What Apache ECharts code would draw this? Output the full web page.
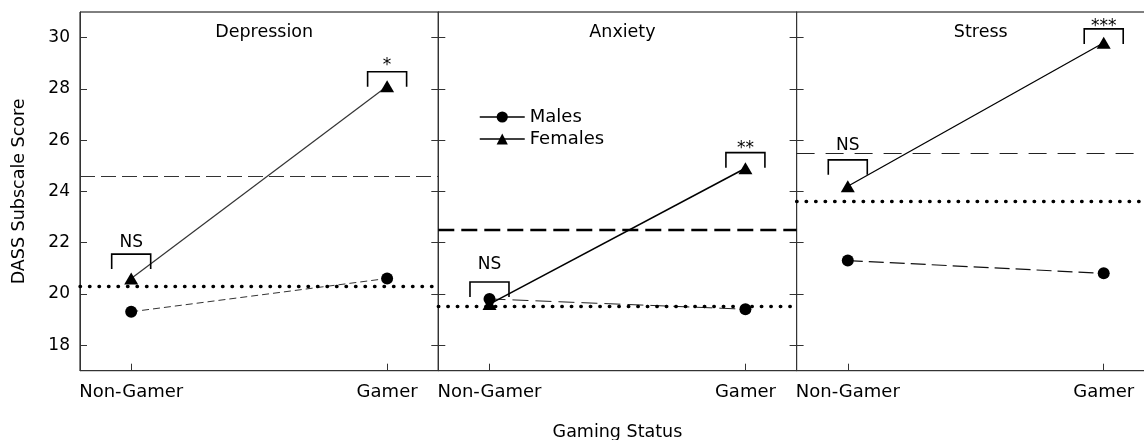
<!DOCTYPE html>
<html>
<head>
<meta charset="utf-8">
<script src="https://cdn.jsdelivr.net/npm/echarts@6/dist/echarts.min.js"></script>
<style>
html, body { margin: 0; padding: 0; background: #fff; }
#main { width: 1144px; height: 440px; }
</style>
</head>
<body>
<div id="main"></div>
<script>
// values
var panels = ['Depression', 'Anxiety', 'Stress'];
var groups = ['Non-Gamer', 'Gamer'];
var yTicks = [18, 20, 22, 24, 26, 28, 30];
var males = [[19.3, 20.6], [19.8, 19.4], [21.3, 20.8]];
var females = [[20.6, 28.1], [19.6, 24.9], [24.2, 29.8]];
var dashedRef = [24.6, 22.5, 25.5];
var dottedRef = [20.3, 19.5, 23.6];
// significance brackets (level of bracket top, level of label)
var sigLabels = [['NS', '*'], ['NS', '**'], ['NS', '***']];
var sigBracket = [[21.55, 28.67], [20.46, 25.51], [25.23, 30.34]];
var sigText = [[22.0, 28.9], [21.15, 25.65], [25.8, 30.45]];

var maleLine = [
    { type: [7, 4], width: 1, color: '#333' },
    { type: [16, 7], width: 1, color: '#222' },
    { type: [15, 6], width: 1.2, color: '#111' }
];
var femaleLine = [
    { type: 'solid', width: 1.2, color: '#333' },
    { type: 'solid', width: 1.6, color: '#000' },
    { type: 'solid', width: 1.3, color: '#000' }
];
var refDash = [
    { type: [15, 6], width: 1, color: '#333' },
    { type: [16, 7], width: 2.4, color: '#000' },
    { type: [18, 11], width: 1.2, color: '#222' }
];

var FONT = 'DejaVu Sans';
var panelLeft = 80, panelW = 358.3;

var grids = [], xAxes = [], yAxes = [], series = [], titles = [];

panels.forEach(function (name, p) {
    grids.push({
        left: panelLeft + p * panelW, top: 12, width: panelW, height: 358.7,
        outerBoundsMode: 'none', containLabel: false,
        show: true, borderColor: '#000', borderWidth: 1
    });
    titles.push({
        text: name, left: panelLeft + p * panelW + panelW / 2, top: 18, textAlign: 'center',
        textStyle: { fontSize: 17.5, fontWeight: 'normal', color: '#000', fontFamily: FONT }
    });
    xAxes.push({
        type: 'value', gridIndex: p, min: -0.2, max: 1.2,
        axisLine: { show: true, onZero: false, lineStyle: { color: '#333' } },
        axisTick: { show: true, inside: true, length: 7, customValues: [0, 1], lineStyle: { color: '#333' } },
        axisLabel: {
            customValues: [0, 1], margin: 13, fontSize: 18, color: '#000', fontFamily: FONT,
            formatter: function (v) { return groups[v]; }
        },
        splitLine: { show: false },
        name: p === 1 ? 'Gaming Status' : '',
        nameLocation: 'middle', nameGap: 53,
        nameTextStyle: { fontSize: 17.5, color: '#000', fontFamily: FONT }
    });
    yAxes.push({
        type: 'value', gridIndex: p, min: 17, max: 31, position: 'left',
        axisLine: { show: true, onZero: false, lineStyle: { color: '#333' } },
        axisTick: { show: true, inside: true, length: 7, customValues: yTicks, lineStyle: { color: '#333' } },
        axisLabel: { show: p === 0, customValues: yTicks, margin: 10, fontSize: 17, color: '#000', fontFamily: FONT },
        splitLine: { show: false },
        name: p === 0 ? 'DASS Subscale Score' : '',
        nameLocation: 'middle', nameGap: 52,
        nameTextStyle: { fontSize: 17.5, color: '#000', fontFamily: FONT }
    });
    yAxes.push({
        type: 'value', gridIndex: p, min: 17, max: 31, position: 'right',
        axisLine: { show: true, onZero: false, lineStyle: { color: '#333' } },
        axisTick: { show: true, inside: true, length: 7, customValues: yTicks, lineStyle: { color: '#333' } },
        axisLabel: { show: false },
        splitLine: { show: false }
    });

    series.push({
        name: 'Males', type: 'line', xAxisIndex: p, yAxisIndex: p * 2,
        data: males[p].map(function (v, i) { return [i, v]; }),
        symbol: 'circle', symbolSize: 12,
        itemStyle: { color: '#000' },
        lineStyle: maleLine[p],
        z: 3,
        markLine: {
            silent: true, symbol: 'none', label: { show: false },
            data: [
                { yAxis: dashedRef[p], lineStyle: refDash[p] },
                { yAxis: dottedRef[p], lineStyle: { type: [0.5, 9], width: 3.4, cap: 'round', color: '#000' } }
            ]
        }
    });
    series.push({
        name: 'Females', type: 'line', xAxisIndex: p, yAxisIndex: p * 2,
        data: females[p].map(function (v, i) { return [i, v]; }),
        symbol: 'triangle', symbolSize: [14, 12],
        itemStyle: { color: '#000' },
        lineStyle: femaleLine[p],
        z: 4
    });
    series.push({
        type: 'custom', xAxisIndex: p, yAxisIndex: p * 2, silent: true, z: 5,
        data: [0, 1].map(function (g) { return [g, sigBracket[p][g], sigText[p][g]]; }),
        renderItem: function (params, api) {
            var top = api.coord([api.value(0), api.value(1)]);
            var txt = api.coord([api.value(0), api.value(2)]);
            var half = 19.5, leg = 15;
            return {
                type: 'group',
                children: [
                    {
                        type: 'polyline',
                        shape: { points: [[top[0] - half, top[1] + leg], [top[0] - half, top[1]], [top[0] + half, top[1]], [top[0] + half, top[1] + leg]] },
                        style: { stroke: '#000', lineWidth: 1.6, fill: null }
                    },
                    {
                        type: 'text', x: txt[0], y: txt[1],
                        style: {
                            text: sigLabels[p][params.dataIndex], align: 'center', verticalAlign: 'middle',
                            fontSize: 17, fontFamily: FONT, fill: '#000'
                        }
                    }
                ]
            };
        }
    });
});

var myChart = echarts.init(document.getElementById('main'));
myChart.setOption({
    animation: false,
    backgroundColor: '#fff',
    textStyle: { fontFamily: FONT },
    title: titles,
    legend: {
        orient: 'vertical', left: 474, top: 103, itemWidth: 45, itemHeight: 14, itemGap: 4,
        data: ['Males', 'Females'], selectedMode: false,
        textStyle: { fontSize: 18, lineHeight: 18, color: '#000', fontFamily: FONT },
        lineStyle: { type: 'solid', width: 1.5, color: '#000' },
        itemStyle: { color: '#000' }
    },
    grid: grids,
    xAxis: xAxes,
    yAxis: yAxes,
    series: series
});
</script>
</body>
</html>
